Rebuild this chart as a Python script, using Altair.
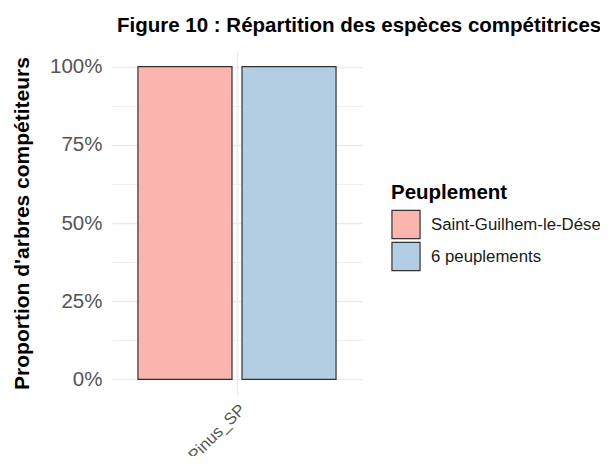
import altair as alt
import pandas as pd

categories = ["Pinus_SP", "Pinus_SP"]
groups = ["Saint-Guilhem-le-Désert", "6 peuplements"]
proportions = [1.0, 1.0]
colors = ["#FBB4AE", "#B3CDE3"]
y_ticks = [0, 0.125, 0.25, 0.375, 0.5, 0.625, 0.75, 0.875, 1.0]

df = pd.DataFrame({"Espece": categories, "Peuplement": groups, "Proportion": proportions})

FONT = "Liberation Sans"

chart = alt.Chart(df).mark_bar(stroke="#333333", strokeWidth=1.2).encode(
    x=alt.X("Espece:N", title=None,
            scale=alt.Scale(paddingInner=0, paddingOuter=0.131),
            axis=alt.Axis(labelAngle=-45, labelAlign="right", labelBaseline="top",
                          labelFontSize=16.5, labelColor="#555555", labelFont=FONT,
                          labelPadding=6, labelOffset=0, ticks=False, domain=False,
                          grid=True, gridColor="#EBEBEB", gridWidth=1.4, bandPosition=0.5)),
    xOffset=alt.XOffset("Peuplement:N", sort=groups,
                        scale=alt.Scale(paddingInner=0.096, paddingOuter=0)),
    y=alt.Y("Proportion:Q", stack=None,
            scale=alt.Scale(domain=[-0.05, 1.05], nice=False, zero=False),
            axis=alt.Axis(title="Proportion d'arbres compétiteurs", values=y_ticks,
                          labelExpr="datum.value % 0.25 == 0 ? format(datum.value, '.0%') : ''",
                          labelFontSize=20.5, labelColor="#555555", labelFont=FONT,
                          labelPadding=10, ticks=False, domain=False,
                          titleFontSize=21, titleFontWeight="bold", titleColor="#000000",
                          titleFont=FONT, titlePadding=17,
                          gridColor="#EBEBEB",
                          gridWidth={"condition": {"test": "datum.value % 0.25 == 0", "value": 1.4},
                                     "value": 0.8})),
    y2=alt.datum(0),
    color=alt.Color("Peuplement:N", sort=groups,
                    scale=alt.Scale(domain=groups, range=colors),
                    legend=alt.Legend(title="Peuplement", orient="none", legendX=279, legendY=132,
                                      titleFontSize=20.5, titleFontWeight="bold", titleColor="#000000",
                                      titleFont=FONT, titlePadding=6,
                                      labelFontSize=16.8, labelColor="#1A1A1A", labelFont=FONT,
                                      labelLimit=0, labelOffset=10,
                                      symbolType="square", symbolSize=790,
                                      symbolStrokeColor="#333333", symbolStrokeWidth=1.2,
                                      symbolOpacity=1, rowPadding=-3)),
).properties(
    width=250,
    height=344,
    title=alt.TitleParams("Figure 10 : Répartition des espèces compétitrices",
                          anchor="start", frame="group", dx=5, fontSize=20.5,
                          fontWeight="bold", color="#000000", font=FONT,
                          baseline="alphabetic", offset=-1),
    autosize=alt.AutoSizeParams(type="none"),
    padding={"left": 104, "top": 43, "right": 238, "bottom": 61},
).configure(background="white").configure_view(stroke="transparent")

chart.save("out.html", embed_options={"renderer": "svg", "actions": False})
